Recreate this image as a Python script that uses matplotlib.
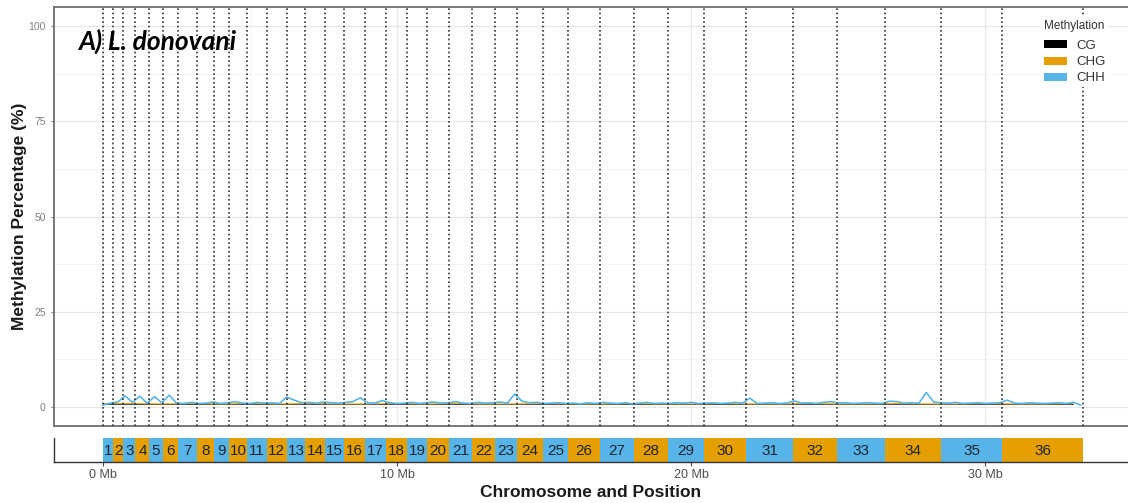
import numpy as np
import matplotlib.pyplot as plt
from matplotlib.patches import Patch

# chromosome layout (Mb)
chrom_names = [str(i) for i in range(1, 37)]
chrom_len_mb = [0.33, 0.36, 0.41, 0.48, 0.45, 0.52, 0.65, 0.58, 0.52, 0.61,
                0.66, 0.68, 0.62, 0.68, 0.65, 0.71, 0.71, 0.71, 0.69, 0.75,
                0.78, 0.78, 0.75, 0.89, 0.85, 1.08, 1.16, 1.16, 1.22, 1.43,
                1.60, 1.50, 1.63, 1.90, 2.08, 2.75]

# methylation (%) in 0.25 Mb windows along the genome
bin_mb = 0.25
chh_pct = [0.5, 1.0, 1.3, 2.9, 1.2, 2.8, 1.0, 2.7, 1.1, 3.1, 1.0, 0.9, 1.2, 0.9, 1.0, 1.3,
           0.9, 1.1, 1.4, 1.0, 0.9, 1.2, 1.0, 1.1, 0.9, 2.6, 1.8, 1.1, 1.2, 1.0, 1.3, 1.1,
           1.0, 1.2, 1.4, 2.4, 1.1, 1.0, 1.7, 1.1, 0.9, 1.0, 1.2, 0.9, 1.1, 1.3, 1.0, 1.1,
           1.4, 1.0, 0.9, 1.2, 1.0, 1.1, 1.3, 1.0, 3.4, 1.5, 1.1, 1.2, 0.9, 1.0, 1.1, 0.9,
           1.0, 0.8, 1.1, 0.9, 1.2, 1.0, 0.9, 1.1, 0.8, 1.0, 1.2, 0.9, 1.0, 0.9, 1.1, 1.0,
           1.2, 0.9, 1.0, 1.1, 0.9, 1.0, 1.2, 1.0, 2.3, 0.9, 1.0, 1.1, 0.9, 1.0, 1.6, 1.0,
           1.1, 0.9, 1.2, 1.4, 1.0, 1.1, 0.9, 1.0, 1.1, 1.0, 0.9, 1.5, 1.4, 1.0, 1.1, 1.0,
           3.8, 1.3, 1.1, 1.0, 1.2, 0.9, 1.0, 1.1, 0.9, 1.0, 1.1, 1.8, 1.0, 0.9, 1.1, 1.0,
           0.9, 1.0, 1.1, 0.9, 1.2, 0.5]
# coarser 1 Mb windows for the other contexts
chg_pct = [0.9, 0.9, 0.8, 0.9, 0.8, 0.9, 0.8, 0.9, 0.8, 0.8, 0.9, 0.8, 0.9, 0.8, 0.8, 0.9, 0.8,
           0.8, 0.9, 0.8, 0.8, 0.9, 0.8, 0.8, 0.9, 0.8, 0.8, 0.9, 0.8, 0.8, 0.9, 0.8, 0.8, 0.9]
cg_pct = [0.8, 0.8, 0.8, 0.8, 0.8, 0.8, 0.8, 0.8, 0.8, 0.8, 0.8, 0.8, 0.8, 0.8, 0.8, 0.8, 0.8,
          0.8, 0.8, 0.8, 0.8, 0.8, 0.8, 0.8, 0.8, 0.8, 0.8, 0.8, 0.8, 0.8, 0.8, 0.8, 0.8, 0.8]

contexts = ["CG", "CHG", "CHH"]
context_colors = {"CG": "#000000", "CHG": "#E69F00", "CHH": "#56B4E9"}
chrom_colors = ["#56B4E9", "#E69F00"]
y_ticks = [0, 25, 50, 75, 100]
x_ticks_mb = [0, 10, 20, 30]

W, H = 1128, 503
fig = plt.figure(figsize=(W / 100, H / 100), dpi=100)
ax = fig.add_axes([54 / W, 77 / H, 1 - 54 / W, 419 / H])
axc = fig.add_axes([54 / W, 41 / H, 1 - 54 / W, 24 / H])

starts = np.concatenate([[0], np.cumsum(chrom_len_mb)[:-1]])
ends = starts + np.array(chrom_len_mb)
xlim = (-1.667, 34.86)

# grid (theme_bw look)
for v in x_ticks_mb:
    ax.axvline(v, color="#e8e8e8", lw=0.9, zorder=0)
for v in [5, 15, 25]:
    ax.axvline(v, color="#f4f4f4", lw=0.6, zorder=0)
for v in y_ticks:
    ax.axhline(v, color="#e8e8e8", lw=0.9, zorder=0)
for v in [12.5, 37.5, 62.5, 87.5]:
    ax.axhline(v, color="#f4f4f4", lw=0.6, zorder=0)

ax.plot(np.arange(len(cg_pct)) * 1.0, cg_pct, color=context_colors["CG"], lw=0.5, zorder=2)
ax.plot(np.arange(len(chg_pct)) * 1.0, chg_pct, color=context_colors["CHG"], lw=0.7, zorder=2)
ax.plot(np.arange(len(chh_pct)) * bin_mb, chh_pct, color=context_colors["CHH"], lw=1.2, zorder=3)

for b in list(starts) + [ends[-1]]:
    ax.axvline(b, color="#333333", lw=1.2, ls=(0, (1, 1.6)), zorder=4)

ax.set_xlim(*xlim)
ax.set_ylim(-5, 105)
ax.set_xticks([])
ax.set_yticks(y_ticks)
ax.tick_params(axis="y", labelsize=7.5, labelcolor="#808080", color="#808080", length=2.5, width=0.8)
ax.set_ylabel("Methylation Percentage (%)", fontsize=12.5, fontweight="bold",
              family="Liberation Sans", color="#1a1a1a", labelpad=1)
for lab in ax.get_yticklabels():
    lab.set_family("Liberation Sans")
for s in ax.spines.values():
    s.set_color("#6e6e6e")
    s.set_linewidth(1.3)
ax.spines["right"].set_visible(False)

handles = [Patch(facecolor=context_colors[c], edgecolor="none", label=c) for c in contexts]
leg = ax.legend(handles=handles, title="Methylation", loc="upper left",
                bbox_to_anchor=(1041 / W, 1 - 17 / H), bbox_transform=fig.transFigure,
                frameon=True, facecolor="white", edgecolor="none", framealpha=1,
                fontsize=9, title_fontsize=8.5, alignment="left",
                handlelength=1.75, handleheight=0.55, labelspacing=0.32, handletextpad=0.7,
                borderpad=0.2, borderaxespad=0, prop={"family": "Liberation Sans", "size": 9.5})
leg.set_zorder(10)
leg._legend_box.sep = 6
leg.get_title().set_color("#333333")
leg.get_title().set_family("Liberation Sans")
for t in leg.get_texts():
    t.set_color("#333333")

fig.text(78 / W, 1 - 41 / H, "A) L. donovani", fontsize=19, fontweight="bold",
         style="italic", family="Lato", va="center", ha="left")

# chromosome ideogram
axc.bar(starts, [1] * len(starts), width=chrom_len_mb, align="edge",
        color=[chrom_colors[i % 2] for i in range(len(starts))], edgecolor="none")
for name, s, e in zip(chrom_names, starts, ends):
    axc.text((s + e) / 2, 0.45, name, ha="center", va="center", fontsize=11,
             family="Liberation Sans", color="#1f2530")
axc.set_xlim(*xlim)
axc.set_ylim(0, 1)
axc.set_yticks([])
axc.set_xticks(x_ticks_mb)
axc.set_xticklabels([f"{v} Mb" for v in x_ticks_mb], family="Liberation Sans")
axc.tick_params(axis="x", labelsize=9, labelcolor="#4d4d4d", color="#4d4d4d", length=3, width=0.8, pad=2)
for side in ["top", "right"]:
    axc.spines[side].set_visible(False)
for side in ["left", "bottom"]:
    axc.spines[side].set_color("#333333")
    axc.spines[side].set_linewidth(1.0)
axc.set_xlabel("Chromosome and Position", fontsize=12.5, fontweight="bold",
               family="Liberation Sans", color="#1a1a1a", labelpad=3)

fig.savefig("out.png", dpi=100)
